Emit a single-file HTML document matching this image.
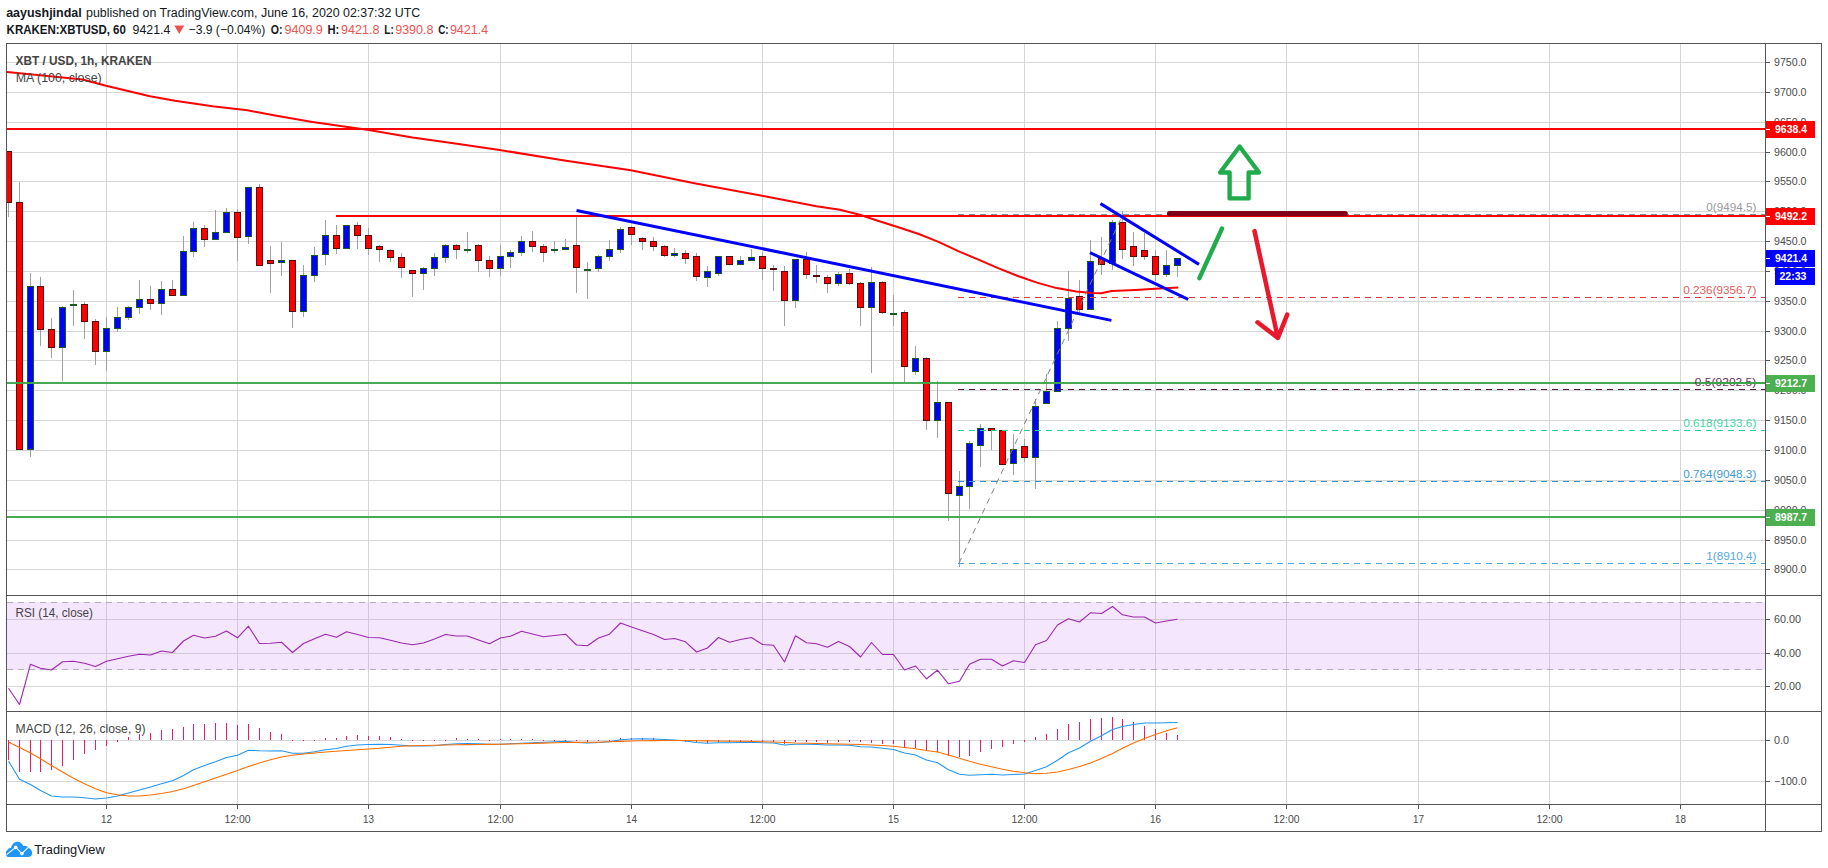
<!DOCTYPE html>
<html lang="en"><head><meta charset="utf-8"><title>XBTUSD chart</title>
<style>html,body{margin:0;padding:0;background:#fff;}body{width:1828px;height:868px;overflow:hidden;}</style>
</head><body>
<svg width="1828" height="868" viewBox="0 0 1828 868" style="display:block;font-family:'Liberation Sans', sans-serif">
<rect x="0" y="0" width="1828" height="868" fill="#ffffff"/>
<g shape-rendering="crispEdges">
<rect x="7" y="602" width="1758" height="68" fill="#f4e6fd"/>
<rect x="106" y="44" width="1" height="760" fill="#d6d6d6"/>
<rect x="237" y="44" width="1" height="760" fill="#d6d6d6"/>
<rect x="368" y="44" width="1" height="760" fill="#d6d6d6"/>
<rect x="500" y="44" width="1" height="760" fill="#d6d6d6"/>
<rect x="631" y="44" width="1" height="760" fill="#d6d6d6"/>
<rect x="762" y="44" width="1" height="760" fill="#d6d6d6"/>
<rect x="893" y="44" width="1" height="760" fill="#d6d6d6"/>
<rect x="1024" y="44" width="1" height="760" fill="#d6d6d6"/>
<rect x="1155" y="44" width="1" height="760" fill="#d6d6d6"/>
<rect x="1286" y="44" width="1" height="760" fill="#d6d6d6"/>
<rect x="1418" y="44" width="1" height="760" fill="#d6d6d6"/>
<rect x="1549" y="44" width="1" height="760" fill="#d6d6d6"/>
<rect x="1680" y="44" width="1" height="760" fill="#d6d6d6"/>
<rect x="7" y="62" width="1758" height="1" fill="#d6d6d6"/>
<rect x="7" y="92" width="1758" height="1" fill="#d6d6d6"/>
<rect x="7" y="122" width="1758" height="1" fill="#d6d6d6"/>
<rect x="7" y="152" width="1758" height="1" fill="#d6d6d6"/>
<rect x="7" y="181" width="1758" height="1" fill="#d6d6d6"/>
<rect x="7" y="211" width="1758" height="1" fill="#d6d6d6"/>
<rect x="7" y="241" width="1758" height="1" fill="#d6d6d6"/>
<rect x="7" y="271" width="1758" height="1" fill="#d6d6d6"/>
<rect x="7" y="301" width="1758" height="1" fill="#d6d6d6"/>
<rect x="7" y="331" width="1758" height="1" fill="#d6d6d6"/>
<rect x="7" y="360" width="1758" height="1" fill="#d6d6d6"/>
<rect x="7" y="390" width="1758" height="1" fill="#d6d6d6"/>
<rect x="7" y="420" width="1758" height="1" fill="#d6d6d6"/>
<rect x="7" y="450" width="1758" height="1" fill="#d6d6d6"/>
<rect x="7" y="480" width="1758" height="1" fill="#d6d6d6"/>
<rect x="7" y="510" width="1758" height="1" fill="#d6d6d6"/>
<rect x="7" y="540" width="1758" height="1" fill="#d6d6d6"/>
<rect x="7" y="569" width="1758" height="1" fill="#d6d6d6"/>
<rect x="7" y="619" width="1758" height="1" fill="#d6d6d6"/>
<rect x="7" y="653" width="1758" height="1" fill="#d6d6d6"/>
<rect x="7" y="686" width="1758" height="1" fill="#d6d6d6"/>
<rect x="7" y="740" width="1758" height="1" fill="#d6d6d6"/>
<rect x="7" y="781" width="1758" height="1" fill="#d6d6d6"/>
</g>
<g shape-rendering="crispEdges">
<rect x="7" y="619" width="1758" height="1" fill="#d4c6dc"/>
<rect x="7" y="653" width="1758" height="1" fill="#d4c6dc"/>
<rect x="106" y="602" width="1" height="68" fill="#d4c6dc"/>
<rect x="237" y="602" width="1" height="68" fill="#d4c6dc"/>
<rect x="368" y="602" width="1" height="68" fill="#d4c6dc"/>
<rect x="500" y="602" width="1" height="68" fill="#d4c6dc"/>
<rect x="631" y="602" width="1" height="68" fill="#d4c6dc"/>
<rect x="762" y="602" width="1" height="68" fill="#d4c6dc"/>
<rect x="893" y="602" width="1" height="68" fill="#d4c6dc"/>
<rect x="1024" y="602" width="1" height="68" fill="#d4c6dc"/>
<rect x="1155" y="602" width="1" height="68" fill="#d4c6dc"/>
<rect x="1286" y="602" width="1" height="68" fill="#d4c6dc"/>
<rect x="1418" y="602" width="1" height="68" fill="#d4c6dc"/>
<rect x="1549" y="602" width="1" height="68" fill="#d4c6dc"/>
<rect x="1680" y="602" width="1" height="68" fill="#d4c6dc"/>
</g>
<line x1="7" y1="602.5" x2="1765" y2="602.5" stroke="#b5adbd" stroke-width="1" stroke-dasharray="6,5" shape-rendering="crispEdges"/>
<line x1="7" y1="669.5" x2="1765" y2="669.5" stroke="#b5adbd" stroke-width="1" stroke-dasharray="6,5" shape-rendering="crispEdges"/>
<g shape-rendering="crispEdges">
<rect x="8" y="151" width="1" height="66" fill="#a0a0a0"/>
<rect x="7" y="151" width="5" height="52" fill="#5a0c0c"/>
<rect x="7" y="152" width="4" height="50" fill="#ff0000"/>
<rect x="19" y="182" width="1" height="268" fill="#a0a0a0"/>
<rect x="16" y="202" width="7" height="248" fill="#5a0c0c"/>
<rect x="17" y="203" width="5" height="246" fill="#ff0000"/>
<rect x="30" y="273" width="1" height="184" fill="#a0a0a0"/>
<rect x="27" y="286" width="7" height="164" fill="#1a5a20"/>
<rect x="28" y="287" width="5" height="162" fill="#0000ff"/>
<rect x="40" y="277" width="1" height="69" fill="#a0a0a0"/>
<rect x="37" y="286" width="7" height="44" fill="#5a0c0c"/>
<rect x="38" y="287" width="5" height="42" fill="#ff0000"/>
<rect x="51" y="318" width="1" height="40" fill="#a0a0a0"/>
<rect x="48" y="329" width="7" height="19" fill="#5a0c0c"/>
<rect x="49" y="330" width="5" height="17" fill="#ff0000"/>
<rect x="62" y="306" width="1" height="75" fill="#a0a0a0"/>
<rect x="59" y="307" width="7" height="41" fill="#1a5a20"/>
<rect x="60" y="308" width="5" height="39" fill="#0000ff"/>
<rect x="73" y="290" width="1" height="36" fill="#a0a0a0"/>
<rect x="70" y="304" width="7" height="2" fill="#1a5a20"/>
<rect x="84" y="302" width="1" height="37" fill="#a0a0a0"/>
<rect x="81" y="304" width="7" height="18" fill="#5a0c0c"/>
<rect x="82" y="305" width="5" height="16" fill="#ff0000"/>
<rect x="95" y="319" width="1" height="46" fill="#a0a0a0"/>
<rect x="92" y="321" width="7" height="31" fill="#5a0c0c"/>
<rect x="93" y="322" width="5" height="29" fill="#ff0000"/>
<rect x="106" y="317" width="1" height="54" fill="#a0a0a0"/>
<rect x="103" y="328" width="7" height="24" fill="#1a5a20"/>
<rect x="104" y="329" width="5" height="22" fill="#0000ff"/>
<rect x="117" y="307" width="1" height="25" fill="#a0a0a0"/>
<rect x="114" y="317" width="7" height="12" fill="#1a5a20"/>
<rect x="115" y="318" width="5" height="10" fill="#0000ff"/>
<rect x="128" y="306" width="1" height="14" fill="#a0a0a0"/>
<rect x="125" y="307" width="7" height="11" fill="#1a5a20"/>
<rect x="126" y="308" width="5" height="9" fill="#0000ff"/>
<rect x="139" y="280" width="1" height="34" fill="#a0a0a0"/>
<rect x="136" y="299" width="7" height="9" fill="#1a5a20"/>
<rect x="137" y="300" width="5" height="7" fill="#0000ff"/>
<rect x="150" y="286" width="1" height="24" fill="#a0a0a0"/>
<rect x="147" y="299" width="7" height="5" fill="#5a0c0c"/>
<rect x="148" y="300" width="5" height="3" fill="#ff0000"/>
<rect x="161" y="281" width="1" height="34" fill="#a0a0a0"/>
<rect x="158" y="289" width="7" height="15" fill="#1a5a20"/>
<rect x="159" y="290" width="5" height="13" fill="#0000ff"/>
<rect x="172" y="280" width="1" height="16" fill="#a0a0a0"/>
<rect x="169" y="289" width="7" height="7" fill="#5a0c0c"/>
<rect x="170" y="290" width="5" height="5" fill="#ff0000"/>
<rect x="183" y="236" width="1" height="60" fill="#a0a0a0"/>
<rect x="180" y="251" width="7" height="45" fill="#1a5a20"/>
<rect x="181" y="252" width="5" height="43" fill="#0000ff"/>
<rect x="193" y="222" width="1" height="35" fill="#a0a0a0"/>
<rect x="190" y="228" width="7" height="24" fill="#1a5a20"/>
<rect x="191" y="229" width="5" height="22" fill="#0000ff"/>
<rect x="204" y="225" width="1" height="22" fill="#a0a0a0"/>
<rect x="201" y="228" width="7" height="12" fill="#5a0c0c"/>
<rect x="202" y="229" width="5" height="10" fill="#ff0000"/>
<rect x="215" y="210" width="1" height="30" fill="#a0a0a0"/>
<rect x="212" y="232" width="7" height="8" fill="#1a5a20"/>
<rect x="213" y="233" width="5" height="6" fill="#0000ff"/>
<rect x="226" y="208" width="1" height="25" fill="#a0a0a0"/>
<rect x="223" y="212" width="7" height="21" fill="#1a5a20"/>
<rect x="224" y="213" width="5" height="19" fill="#0000ff"/>
<rect x="237" y="209" width="1" height="52" fill="#a0a0a0"/>
<rect x="234" y="212" width="7" height="26" fill="#5a0c0c"/>
<rect x="235" y="213" width="5" height="24" fill="#ff0000"/>
<rect x="248" y="187" width="1" height="57" fill="#a0a0a0"/>
<rect x="245" y="187" width="7" height="50" fill="#1a5a20"/>
<rect x="246" y="188" width="5" height="48" fill="#0000ff"/>
<rect x="259" y="184" width="1" height="82" fill="#a0a0a0"/>
<rect x="256" y="187" width="7" height="79" fill="#5a0c0c"/>
<rect x="257" y="188" width="5" height="77" fill="#ff0000"/>
<rect x="270" y="246" width="1" height="47" fill="#a0a0a0"/>
<rect x="267" y="260" width="7" height="4" fill="#5a0c0c"/>
<rect x="268" y="261" width="5" height="2" fill="#ff0000"/>
<rect x="281" y="242" width="1" height="34" fill="#a0a0a0"/>
<rect x="278" y="260" width="7" height="3" fill="#1a5a20"/>
<rect x="279" y="261" width="5" height="1" fill="#0000ff"/>
<rect x="292" y="260" width="1" height="68" fill="#a0a0a0"/>
<rect x="289" y="260" width="7" height="52" fill="#5a0c0c"/>
<rect x="290" y="261" width="5" height="50" fill="#ff0000"/>
<rect x="303" y="265" width="1" height="52" fill="#a0a0a0"/>
<rect x="300" y="275" width="7" height="37" fill="#1a5a20"/>
<rect x="301" y="276" width="5" height="35" fill="#0000ff"/>
<rect x="314" y="247" width="1" height="35" fill="#a0a0a0"/>
<rect x="311" y="255" width="7" height="21" fill="#1a5a20"/>
<rect x="312" y="256" width="5" height="19" fill="#0000ff"/>
<rect x="325" y="220" width="1" height="45" fill="#a0a0a0"/>
<rect x="322" y="235" width="7" height="20" fill="#1a5a20"/>
<rect x="323" y="236" width="5" height="18" fill="#0000ff"/>
<rect x="336" y="225" width="1" height="29" fill="#a0a0a0"/>
<rect x="333" y="235" width="7" height="14" fill="#5a0c0c"/>
<rect x="334" y="236" width="5" height="12" fill="#ff0000"/>
<rect x="346" y="225" width="1" height="24" fill="#a0a0a0"/>
<rect x="343" y="225" width="7" height="24" fill="#1a5a20"/>
<rect x="344" y="226" width="5" height="22" fill="#0000ff"/>
<rect x="357" y="222" width="1" height="27" fill="#a0a0a0"/>
<rect x="354" y="225" width="7" height="11" fill="#5a0c0c"/>
<rect x="355" y="226" width="5" height="9" fill="#ff0000"/>
<rect x="368" y="228" width="1" height="27" fill="#a0a0a0"/>
<rect x="365" y="235" width="7" height="14" fill="#5a0c0c"/>
<rect x="366" y="236" width="5" height="12" fill="#ff0000"/>
<rect x="379" y="245" width="1" height="17" fill="#a0a0a0"/>
<rect x="376" y="246" width="7" height="4" fill="#5a0c0c"/>
<rect x="377" y="247" width="5" height="2" fill="#ff0000"/>
<rect x="390" y="249" width="1" height="13" fill="#a0a0a0"/>
<rect x="387" y="250" width="7" height="8" fill="#5a0c0c"/>
<rect x="388" y="251" width="5" height="6" fill="#ff0000"/>
<rect x="401" y="253" width="1" height="25" fill="#a0a0a0"/>
<rect x="398" y="257" width="7" height="11" fill="#5a0c0c"/>
<rect x="399" y="258" width="5" height="9" fill="#ff0000"/>
<rect x="412" y="270" width="1" height="27" fill="#a0a0a0"/>
<rect x="409" y="270" width="7" height="4" fill="#5a0c0c"/>
<rect x="410" y="271" width="5" height="2" fill="#ff0000"/>
<rect x="423" y="267" width="1" height="23" fill="#a0a0a0"/>
<rect x="420" y="268" width="7" height="6" fill="#1a5a20"/>
<rect x="421" y="269" width="5" height="4" fill="#0000ff"/>
<rect x="434" y="253" width="1" height="23" fill="#a0a0a0"/>
<rect x="431" y="257" width="7" height="12" fill="#1a5a20"/>
<rect x="432" y="258" width="5" height="10" fill="#0000ff"/>
<rect x="445" y="244" width="1" height="19" fill="#a0a0a0"/>
<rect x="442" y="245" width="7" height="13" fill="#1a5a20"/>
<rect x="443" y="246" width="5" height="11" fill="#0000ff"/>
<rect x="456" y="244" width="1" height="15" fill="#a0a0a0"/>
<rect x="453" y="245" width="7" height="5" fill="#5a0c0c"/>
<rect x="454" y="246" width="5" height="3" fill="#ff0000"/>
<rect x="467" y="232" width="1" height="21" fill="#a0a0a0"/>
<rect x="464" y="249" width="7" height="2" fill="#1a5a20"/>
<rect x="478" y="244" width="1" height="28" fill="#a0a0a0"/>
<rect x="475" y="245" width="7" height="16" fill="#5a0c0c"/>
<rect x="476" y="246" width="5" height="14" fill="#ff0000"/>
<rect x="489" y="256" width="1" height="21" fill="#a0a0a0"/>
<rect x="486" y="260" width="7" height="9" fill="#5a0c0c"/>
<rect x="487" y="261" width="5" height="7" fill="#ff0000"/>
<rect x="500" y="245" width="1" height="31" fill="#a0a0a0"/>
<rect x="497" y="256" width="7" height="13" fill="#1a5a20"/>
<rect x="498" y="257" width="5" height="11" fill="#0000ff"/>
<rect x="510" y="250" width="1" height="18" fill="#a0a0a0"/>
<rect x="507" y="252" width="7" height="5" fill="#1a5a20"/>
<rect x="508" y="253" width="5" height="3" fill="#0000ff"/>
<rect x="521" y="236" width="1" height="20" fill="#a0a0a0"/>
<rect x="518" y="241" width="7" height="12" fill="#1a5a20"/>
<rect x="519" y="242" width="5" height="10" fill="#0000ff"/>
<rect x="532" y="231" width="1" height="21" fill="#a0a0a0"/>
<rect x="529" y="241" width="7" height="6" fill="#5a0c0c"/>
<rect x="530" y="242" width="5" height="4" fill="#ff0000"/>
<rect x="543" y="244" width="1" height="18" fill="#a0a0a0"/>
<rect x="540" y="246" width="7" height="7" fill="#5a0c0c"/>
<rect x="541" y="247" width="5" height="5" fill="#ff0000"/>
<rect x="554" y="241" width="1" height="12" fill="#a0a0a0"/>
<rect x="551" y="249" width="7" height="2" fill="#1a5a20"/>
<rect x="565" y="239" width="1" height="11" fill="#a0a0a0"/>
<rect x="562" y="247" width="7" height="3" fill="#1a5a20"/>
<rect x="563" y="248" width="5" height="1" fill="#0000ff"/>
<rect x="576" y="217" width="1" height="76" fill="#a0a0a0"/>
<rect x="573" y="245" width="7" height="23" fill="#5a0c0c"/>
<rect x="574" y="246" width="5" height="21" fill="#ff0000"/>
<rect x="587" y="262" width="1" height="37" fill="#a0a0a0"/>
<rect x="584" y="269" width="7" height="2" fill="#1a5a20"/>
<rect x="598" y="255" width="1" height="17" fill="#a0a0a0"/>
<rect x="595" y="256" width="7" height="13" fill="#1a5a20"/>
<rect x="596" y="257" width="5" height="11" fill="#0000ff"/>
<rect x="609" y="240" width="1" height="21" fill="#a0a0a0"/>
<rect x="606" y="249" width="7" height="8" fill="#1a5a20"/>
<rect x="607" y="250" width="5" height="6" fill="#0000ff"/>
<rect x="620" y="227" width="1" height="26" fill="#a0a0a0"/>
<rect x="617" y="229" width="7" height="21" fill="#1a5a20"/>
<rect x="618" y="230" width="5" height="19" fill="#0000ff"/>
<rect x="631" y="226" width="1" height="19" fill="#a0a0a0"/>
<rect x="628" y="227" width="7" height="8" fill="#5a0c0c"/>
<rect x="629" y="228" width="5" height="6" fill="#ff0000"/>
<rect x="642" y="237" width="1" height="13" fill="#a0a0a0"/>
<rect x="639" y="238" width="7" height="4" fill="#5a0c0c"/>
<rect x="640" y="239" width="5" height="2" fill="#ff0000"/>
<rect x="653" y="237" width="1" height="14" fill="#a0a0a0"/>
<rect x="650" y="241" width="7" height="6" fill="#5a0c0c"/>
<rect x="651" y="242" width="5" height="4" fill="#ff0000"/>
<rect x="664" y="245" width="1" height="12" fill="#a0a0a0"/>
<rect x="661" y="246" width="7" height="10" fill="#5a0c0c"/>
<rect x="662" y="247" width="5" height="8" fill="#ff0000"/>
<rect x="674" y="248" width="1" height="9" fill="#a0a0a0"/>
<rect x="671" y="253" width="7" height="3" fill="#1a5a20"/>
<rect x="672" y="254" width="5" height="1" fill="#0000ff"/>
<rect x="685" y="250" width="1" height="14" fill="#a0a0a0"/>
<rect x="682" y="253" width="7" height="6" fill="#5a0c0c"/>
<rect x="683" y="254" width="5" height="4" fill="#ff0000"/>
<rect x="696" y="253" width="1" height="28" fill="#a0a0a0"/>
<rect x="693" y="256" width="7" height="21" fill="#5a0c0c"/>
<rect x="694" y="257" width="5" height="19" fill="#ff0000"/>
<rect x="707" y="266" width="1" height="21" fill="#a0a0a0"/>
<rect x="704" y="271" width="7" height="7" fill="#1a5a20"/>
<rect x="705" y="272" width="5" height="5" fill="#0000ff"/>
<rect x="718" y="256" width="1" height="20" fill="#a0a0a0"/>
<rect x="715" y="256" width="7" height="18" fill="#1a5a20"/>
<rect x="716" y="257" width="5" height="16" fill="#0000ff"/>
<rect x="729" y="256" width="1" height="9" fill="#a0a0a0"/>
<rect x="726" y="256" width="7" height="9" fill="#5a0c0c"/>
<rect x="727" y="257" width="5" height="7" fill="#ff0000"/>
<rect x="740" y="256" width="1" height="9" fill="#a0a0a0"/>
<rect x="737" y="260" width="7" height="5" fill="#1a5a20"/>
<rect x="738" y="261" width="5" height="3" fill="#0000ff"/>
<rect x="751" y="249" width="1" height="12" fill="#a0a0a0"/>
<rect x="748" y="257" width="7" height="4" fill="#1a5a20"/>
<rect x="749" y="258" width="5" height="2" fill="#0000ff"/>
<rect x="762" y="252" width="1" height="28" fill="#a0a0a0"/>
<rect x="759" y="256" width="7" height="13" fill="#5a0c0c"/>
<rect x="760" y="257" width="5" height="11" fill="#ff0000"/>
<rect x="773" y="265" width="1" height="26" fill="#a0a0a0"/>
<rect x="770" y="268" width="7" height="2" fill="#5a0c0c"/>
<rect x="784" y="266" width="1" height="60" fill="#a0a0a0"/>
<rect x="781" y="271" width="7" height="30" fill="#5a0c0c"/>
<rect x="782" y="272" width="5" height="28" fill="#ff0000"/>
<rect x="795" y="259" width="1" height="49" fill="#a0a0a0"/>
<rect x="792" y="259" width="7" height="42" fill="#1a5a20"/>
<rect x="793" y="260" width="5" height="40" fill="#0000ff"/>
<rect x="806" y="252" width="1" height="27" fill="#a0a0a0"/>
<rect x="803" y="259" width="7" height="16" fill="#5a0c0c"/>
<rect x="804" y="260" width="5" height="14" fill="#ff0000"/>
<rect x="816" y="265" width="1" height="18" fill="#a0a0a0"/>
<rect x="813" y="275" width="7" height="2" fill="#5a0c0c"/>
<rect x="827" y="275" width="1" height="18" fill="#a0a0a0"/>
<rect x="824" y="277" width="7" height="7" fill="#5a0c0c"/>
<rect x="825" y="278" width="5" height="5" fill="#ff0000"/>
<rect x="838" y="272" width="1" height="14" fill="#a0a0a0"/>
<rect x="835" y="274" width="7" height="10" fill="#1a5a20"/>
<rect x="836" y="275" width="5" height="8" fill="#0000ff"/>
<rect x="849" y="269" width="1" height="16" fill="#a0a0a0"/>
<rect x="846" y="273" width="7" height="11" fill="#5a0c0c"/>
<rect x="847" y="274" width="5" height="9" fill="#ff0000"/>
<rect x="860" y="282" width="1" height="44" fill="#a0a0a0"/>
<rect x="857" y="283" width="7" height="25" fill="#5a0c0c"/>
<rect x="858" y="284" width="5" height="23" fill="#ff0000"/>
<rect x="871" y="267" width="1" height="106" fill="#a0a0a0"/>
<rect x="868" y="282" width="7" height="26" fill="#1a5a20"/>
<rect x="869" y="283" width="5" height="24" fill="#0000ff"/>
<rect x="882" y="281" width="1" height="33" fill="#a0a0a0"/>
<rect x="879" y="282" width="7" height="31" fill="#5a0c0c"/>
<rect x="880" y="283" width="5" height="29" fill="#ff0000"/>
<rect x="893" y="295" width="1" height="31" fill="#a0a0a0"/>
<rect x="890" y="313" width="7" height="2" fill="#1a5a20"/>
<rect x="904" y="310" width="1" height="72" fill="#a0a0a0"/>
<rect x="901" y="312" width="7" height="55" fill="#5a0c0c"/>
<rect x="902" y="313" width="5" height="53" fill="#ff0000"/>
<rect x="915" y="346" width="1" height="29" fill="#a0a0a0"/>
<rect x="912" y="358" width="7" height="14" fill="#1a5a20"/>
<rect x="913" y="359" width="5" height="12" fill="#0000ff"/>
<rect x="926" y="357" width="1" height="73" fill="#a0a0a0"/>
<rect x="923" y="358" width="7" height="63" fill="#5a0c0c"/>
<rect x="924" y="359" width="5" height="61" fill="#ff0000"/>
<rect x="937" y="381" width="1" height="57" fill="#a0a0a0"/>
<rect x="934" y="402" width="7" height="19" fill="#1a5a20"/>
<rect x="935" y="403" width="5" height="17" fill="#0000ff"/>
<rect x="948" y="402" width="1" height="119" fill="#a0a0a0"/>
<rect x="945" y="402" width="7" height="92" fill="#5a0c0c"/>
<rect x="946" y="403" width="5" height="90" fill="#ff0000"/>
<rect x="959" y="471" width="1" height="96" fill="#a0a0a0"/>
<rect x="956" y="486" width="7" height="10" fill="#1a5a20"/>
<rect x="957" y="487" width="5" height="8" fill="#0000ff"/>
<rect x="969" y="441" width="1" height="68" fill="#a0a0a0"/>
<rect x="966" y="443" width="7" height="44" fill="#1a5a20"/>
<rect x="967" y="444" width="5" height="42" fill="#0000ff"/>
<rect x="980" y="424" width="1" height="43" fill="#a0a0a0"/>
<rect x="977" y="428" width="7" height="18" fill="#1a5a20"/>
<rect x="978" y="429" width="5" height="16" fill="#0000ff"/>
<rect x="991" y="428" width="1" height="22" fill="#a0a0a0"/>
<rect x="988" y="428" width="7" height="3" fill="#5a0c0c"/>
<rect x="989" y="429" width="5" height="1" fill="#ff0000"/>
<rect x="1002" y="430" width="1" height="35" fill="#a0a0a0"/>
<rect x="999" y="430" width="7" height="35" fill="#5a0c0c"/>
<rect x="1000" y="431" width="5" height="33" fill="#ff0000"/>
<rect x="1013" y="434" width="1" height="41" fill="#a0a0a0"/>
<rect x="1010" y="449" width="7" height="15" fill="#1a5a20"/>
<rect x="1011" y="450" width="5" height="13" fill="#0000ff"/>
<rect x="1024" y="439" width="1" height="23" fill="#a0a0a0"/>
<rect x="1021" y="446" width="7" height="12" fill="#5a0c0c"/>
<rect x="1022" y="447" width="5" height="10" fill="#ff0000"/>
<rect x="1035" y="399" width="1" height="90" fill="#a0a0a0"/>
<rect x="1032" y="406" width="7" height="52" fill="#1a5a20"/>
<rect x="1033" y="407" width="5" height="50" fill="#0000ff"/>
<rect x="1046" y="374" width="1" height="30" fill="#a0a0a0"/>
<rect x="1043" y="391" width="7" height="13" fill="#1a5a20"/>
<rect x="1044" y="392" width="5" height="11" fill="#0000ff"/>
<rect x="1057" y="321" width="1" height="71" fill="#a0a0a0"/>
<rect x="1054" y="328" width="7" height="64" fill="#1a5a20"/>
<rect x="1055" y="329" width="5" height="62" fill="#0000ff"/>
<rect x="1068" y="271" width="1" height="70" fill="#a0a0a0"/>
<rect x="1065" y="298" width="7" height="31" fill="#1a5a20"/>
<rect x="1066" y="299" width="5" height="29" fill="#0000ff"/>
<rect x="1079" y="280" width="1" height="33" fill="#a0a0a0"/>
<rect x="1076" y="296" width="7" height="14" fill="#5a0c0c"/>
<rect x="1077" y="297" width="5" height="12" fill="#ff0000"/>
<rect x="1090" y="240" width="1" height="70" fill="#a0a0a0"/>
<rect x="1087" y="261" width="7" height="49" fill="#1a5a20"/>
<rect x="1088" y="262" width="5" height="47" fill="#0000ff"/>
<rect x="1101" y="237" width="1" height="38" fill="#a0a0a0"/>
<rect x="1098" y="258" width="7" height="7" fill="#5a0c0c"/>
<rect x="1099" y="259" width="5" height="5" fill="#ff0000"/>
<rect x="1112" y="220" width="1" height="50" fill="#a0a0a0"/>
<rect x="1109" y="222" width="7" height="42" fill="#1a5a20"/>
<rect x="1110" y="223" width="5" height="40" fill="#0000ff"/>
<rect x="1122" y="211" width="1" height="48" fill="#a0a0a0"/>
<rect x="1119" y="222" width="7" height="28" fill="#5a0c0c"/>
<rect x="1120" y="223" width="5" height="26" fill="#ff0000"/>
<rect x="1133" y="232" width="1" height="34" fill="#a0a0a0"/>
<rect x="1130" y="246" width="7" height="11" fill="#5a0c0c"/>
<rect x="1131" y="247" width="5" height="9" fill="#ff0000"/>
<rect x="1144" y="233" width="1" height="27" fill="#a0a0a0"/>
<rect x="1141" y="250" width="7" height="7" fill="#5a0c0c"/>
<rect x="1142" y="251" width="5" height="5" fill="#ff0000"/>
<rect x="1155" y="250" width="1" height="31" fill="#a0a0a0"/>
<rect x="1152" y="256" width="7" height="19" fill="#5a0c0c"/>
<rect x="1153" y="257" width="5" height="17" fill="#ff0000"/>
<rect x="1166" y="250" width="1" height="27" fill="#a0a0a0"/>
<rect x="1163" y="265" width="7" height="10" fill="#1a5a20"/>
<rect x="1164" y="266" width="5" height="8" fill="#0000ff"/>
<rect x="1177" y="258" width="1" height="19" fill="#a0a0a0"/>
<rect x="1174" y="258" width="7" height="8" fill="#1a5a20"/>
<rect x="1175" y="259" width="5" height="6" fill="#0000ff"/>
</g>
<path d="M7.0,72.0 L37.5,75.0 L82.5,79.5 L106.0,85.8 L150.0,96.3 L175.0,100.8 L212.5,106.3 L247.5,110.3 L275.0,115.5 L312.5,122.0 L368.8,130.0 L412.5,137.5 L457.0,143.8 L501.3,150.3 L566.0,160.8 L630.8,170.2 L695.6,183.5 L762.1,195.8 L816.4,206.3 L840.0,209.8 L859.7,214.7 L879.4,221.2 L899.1,227.5 L918.8,234.0 L938.5,241.9 L958.2,251.1 L977.9,259.4 L997.5,267.9 L1017.2,275.7 L1036.9,282.6 L1056.6,288.1 L1076.3,291.5 L1092.1,292.9 L1100.9,293.3 L1111.8,291.1 L1135.4,289.9 L1155.1,288.7 L1178.3,287.6" fill="none" stroke="#ff0000" stroke-width="2" stroke-linejoin="round"/>
<line x1="958" y1="214.5" x2="1765" y2="214.5" stroke="#8c8c8c" stroke-width="1" stroke-dasharray="6,5" shape-rendering="crispEdges"/>
<line x1="958" y1="297.5" x2="1765" y2="297.5" stroke="#e03a3a" stroke-width="1" stroke-dasharray="6,5" shape-rendering="crispEdges"/>
<line x1="958" y1="389.5" x2="1765" y2="389.5" stroke="#5b1742" stroke-width="1" stroke-dasharray="6,5" shape-rendering="crispEdges"/>
<line x1="958" y1="430.5" x2="1765" y2="430.5" stroke="#22d3a0" stroke-width="1" stroke-dasharray="6,5" shape-rendering="crispEdges"/>
<line x1="958" y1="481.5" x2="1765" y2="481.5" stroke="#2a93d8" stroke-width="1" stroke-dasharray="6,5" shape-rendering="crispEdges"/>
<line x1="958" y1="563.5" x2="1765" y2="563.5" stroke="#4aa8e2" stroke-width="1" stroke-dasharray="6,5" shape-rendering="crispEdges"/>
<line x1="958.9" y1="563.4" x2="1122.9" y2="214.5" stroke="#808080" stroke-width="1" stroke-dasharray="6,5"/>
<g shape-rendering="crispEdges">
<rect x="7" y="128" width="1758" height="2" fill="#ff0000"/>
<rect x="336" y="215" width="1429" height="2" fill="#ff0000"/>
<rect x="7" y="382" width="1758" height="2" fill="#3fa648" fill-opacity="0.95"/>
<rect x="7" y="516" width="1758" height="2" fill="#3fa648" fill-opacity="0.95"/>
</g>
<line x1="576.5" y1="210.5" x2="1111.4" y2="320.4" stroke="#0000ff" stroke-width="3"/>
<line x1="1100.5" y1="203.6" x2="1199" y2="264.4" stroke="#0000ff" stroke-width="3"/>
<line x1="1090" y1="252.6" x2="1188.2" y2="299.4" stroke="#0000ff" stroke-width="3"/>
<line x1="1169.6" y1="213.6" x2="1345.2" y2="213.6" stroke="#80001a" stroke-width="5.2" stroke-linecap="round"/>
<path d="M1239.6,146.5 L1259,172.5 L1248.6,172.5 L1248.6,198.4 L1229.6,198.4 L1229.6,172.5 L1220.1,172.5 Z" fill="none" stroke="#22ab4b" stroke-width="4.4" stroke-linejoin="round"/>
<line x1="1199.4" y1="278.2" x2="1222" y2="228.5" stroke="#22ab4b" stroke-width="4.4" stroke-linecap="round"/>
<path d="M1254.5,231.1 L1277.9,337.9 M1257.5,322.3 L1277.9,337.9 L1287.2,314.7" fill="none" stroke="#e8192c" stroke-width="4.5" stroke-linecap="round" stroke-linejoin="round"/>
<path d="M8.5,688.2 L19.5,704.5 L30.5,664.2 L40.5,668.2 L51.5,670.0 L62.5,661.8 L73.5,661.2 L84.5,663.2 L95.5,666.5 L106.5,661.2 L117.5,658.8 L128.5,656.2 L139.5,654.2 L150.5,655.0 L161.5,651.0 L172.5,652.5 L183.5,641.0 L193.5,635.2 L204.5,638.0 L215.5,636.2 L226.5,631.0 L237.5,637.8 L248.5,626.2 L259.5,643.5 L270.5,643.2 L281.5,642.2 L292.5,652.5 L303.5,643.5 L314.5,638.8 L325.5,634.2 L336.5,637.2 L346.5,631.8 L357.5,634.5 L368.5,637.5 L379.5,637.8 L390.5,640.2 L401.5,643.0 L412.5,644.8 L423.5,643.0 L434.5,639.0 L445.5,634.5 L456.5,636.0 L467.5,636.0 L478.5,640.0 L489.5,643.8 L500.5,638.0 L510.5,636.2 L521.5,631.2 L532.5,634.0 L543.5,636.8 L554.5,635.5 L565.5,634.2 L576.5,645.0 L587.5,645.8 L598.5,638.0 L609.5,634.2 L620.5,623.0 L631.5,627.0 L642.5,630.8 L653.5,634.5 L664.5,639.5 L674.5,638.5 L685.5,641.8 L696.5,652.0 L707.5,648.0 L718.5,637.5 L729.5,642.2 L740.5,639.5 L751.5,637.5 L762.5,644.5 L773.5,645.2 L784.5,662.0 L795.5,635.8 L806.5,642.8 L816.5,643.8 L827.5,647.2 L838.5,641.5 L849.5,646.5 L860.5,657.0 L871.5,642.5 L882.5,654.5 L893.5,654.5 L904.5,670.0 L915.5,666.0 L926.5,678.8 L937.5,670.2 L948.5,683.8 L959.5,681.2 L969.5,664.2 L980.5,659.2 L991.5,659.2 L1002.5,666.0 L1013.5,660.8 L1024.5,662.5 L1035.5,644.8 L1046.5,640.5 L1057.5,625.0 L1068.5,618.8 L1079.5,622.0 L1090.5,612.8 L1101.5,613.5 L1112.5,606.5 L1122.5,614.8 L1133.5,617.0 L1144.5,617.0 L1155.5,623.0 L1166.5,621.0 L1177.5,619.2" fill="none" stroke="#9c27b0" stroke-width="1.1" stroke-linejoin="round"/>
<g shape-rendering="crispEdges">
<rect x="8" y="740" width="1" height="20" fill="#f0186c"/>
<rect x="19" y="740" width="1" height="32" fill="#f0186c"/>
<rect x="30" y="740" width="1" height="32" fill="#f0186c"/>
<rect x="40" y="740" width="1" height="32" fill="#f0186c"/>
<rect x="51" y="740" width="1" height="30" fill="#f0186c"/>
<rect x="62" y="740" width="1" height="26" fill="#f0186c"/>
<rect x="73" y="740" width="1" height="20" fill="#f0186c"/>
<rect x="84" y="740" width="1" height="14" fill="#f0186c"/>
<rect x="95" y="740" width="1" height="10" fill="#f0186c"/>
<rect x="106" y="740" width="1" height="6" fill="#f0186c"/>
<rect x="117" y="740" width="1" height="2" fill="#f0186c"/>
<rect x="128" y="737" width="1" height="3" fill="#f0186c"/>
<rect x="139" y="734" width="1" height="6" fill="#f0186c"/>
<rect x="150" y="733" width="1" height="7" fill="#f0186c"/>
<rect x="161" y="730" width="1" height="10" fill="#f0186c"/>
<rect x="172" y="729" width="1" height="11" fill="#f0186c"/>
<rect x="183" y="727" width="1" height="13" fill="#f0186c"/>
<rect x="193" y="724" width="1" height="16" fill="#f0186c"/>
<rect x="204" y="724" width="1" height="16" fill="#f0186c"/>
<rect x="215" y="723" width="1" height="17" fill="#f0186c"/>
<rect x="226" y="723" width="1" height="17" fill="#f0186c"/>
<rect x="237" y="725" width="1" height="15" fill="#f0186c"/>
<rect x="248" y="724" width="1" height="16" fill="#f0186c"/>
<rect x="259" y="728" width="1" height="12" fill="#f0186c"/>
<rect x="270" y="732" width="1" height="8" fill="#f0186c"/>
<rect x="281" y="734" width="1" height="6" fill="#f0186c"/>
<rect x="292" y="740" width="1" height="1" fill="#f0186c"/>
<rect x="303" y="740" width="1" height="1" fill="#f0186c"/>
<rect x="314" y="740" width="1" height="1" fill="#f0186c"/>
<rect x="325" y="738" width="1" height="2" fill="#f0186c"/>
<rect x="336" y="738" width="1" height="2" fill="#f0186c"/>
<rect x="346" y="736" width="1" height="4" fill="#f0186c"/>
<rect x="357" y="735" width="1" height="5" fill="#f0186c"/>
<rect x="368" y="736" width="1" height="4" fill="#f0186c"/>
<rect x="379" y="736" width="1" height="4" fill="#f0186c"/>
<rect x="390" y="737" width="1" height="3" fill="#f0186c"/>
<rect x="401" y="739" width="1" height="1" fill="#f0186c"/>
<rect x="412" y="740" width="1" height="1" fill="#f0186c"/>
<rect x="423" y="740" width="1" height="1" fill="#f0186c"/>
<rect x="434" y="740" width="1" height="1" fill="#f0186c"/>
<rect x="445" y="740" width="1" height="1" fill="#f0186c"/>
<rect x="456" y="738" width="1" height="2" fill="#f0186c"/>
<rect x="467" y="739" width="1" height="1" fill="#f0186c"/>
<rect x="478" y="739" width="1" height="1" fill="#f0186c"/>
<rect x="489" y="740" width="1" height="1" fill="#f0186c"/>
<rect x="500" y="739" width="1" height="1" fill="#f0186c"/>
<rect x="510" y="739" width="1" height="1" fill="#f0186c"/>
<rect x="521" y="739" width="1" height="1" fill="#f0186c"/>
<rect x="532" y="739" width="1" height="1" fill="#f0186c"/>
<rect x="543" y="740" width="1" height="1" fill="#f0186c"/>
<rect x="554" y="740" width="1" height="1" fill="#f0186c"/>
<rect x="565" y="740" width="1" height="1" fill="#f0186c"/>
<rect x="576" y="740" width="1" height="1" fill="#f0186c"/>
<rect x="587" y="740" width="1" height="2" fill="#f0186c"/>
<rect x="598" y="740" width="1" height="1" fill="#f0186c"/>
<rect x="609" y="740" width="1" height="1" fill="#f0186c"/>
<rect x="620" y="738" width="1" height="2" fill="#f0186c"/>
<rect x="631" y="738" width="1" height="2" fill="#f0186c"/>
<rect x="642" y="738" width="1" height="2" fill="#f0186c"/>
<rect x="653" y="738" width="1" height="2" fill="#f0186c"/>
<rect x="664" y="739" width="1" height="1" fill="#f0186c"/>
<rect x="674" y="740" width="1" height="1" fill="#f0186c"/>
<rect x="685" y="740" width="1" height="2" fill="#f0186c"/>
<rect x="696" y="740" width="1" height="2" fill="#f0186c"/>
<rect x="707" y="740" width="1" height="3" fill="#f0186c"/>
<rect x="718" y="740" width="1" height="2" fill="#f0186c"/>
<rect x="729" y="740" width="1" height="2" fill="#f0186c"/>
<rect x="740" y="740" width="1" height="2" fill="#f0186c"/>
<rect x="751" y="740" width="1" height="2" fill="#f0186c"/>
<rect x="762" y="740" width="1" height="2" fill="#f0186c"/>
<rect x="773" y="740" width="1" height="2" fill="#f0186c"/>
<rect x="784" y="740" width="1" height="4" fill="#f0186c"/>
<rect x="795" y="740" width="1" height="2" fill="#f0186c"/>
<rect x="806" y="740" width="1" height="2" fill="#f0186c"/>
<rect x="816" y="740" width="1" height="2" fill="#f0186c"/>
<rect x="827" y="740" width="1" height="3" fill="#f0186c"/>
<rect x="838" y="740" width="1" height="2" fill="#f0186c"/>
<rect x="849" y="740" width="1" height="2" fill="#f0186c"/>
<rect x="860" y="740" width="1" height="2" fill="#f0186c"/>
<rect x="871" y="740" width="1" height="3" fill="#f0186c"/>
<rect x="882" y="740" width="1" height="4" fill="#f0186c"/>
<rect x="893" y="740" width="1" height="4" fill="#f0186c"/>
<rect x="904" y="740" width="1" height="7" fill="#f0186c"/>
<rect x="915" y="740" width="1" height="8" fill="#f0186c"/>
<rect x="926" y="740" width="1" height="10" fill="#f0186c"/>
<rect x="937" y="740" width="1" height="12" fill="#f0186c"/>
<rect x="948" y="740" width="1" height="16" fill="#f0186c"/>
<rect x="959" y="740" width="1" height="17" fill="#f0186c"/>
<rect x="969" y="740" width="1" height="16" fill="#f0186c"/>
<rect x="980" y="740" width="1" height="12" fill="#f0186c"/>
<rect x="991" y="740" width="1" height="9" fill="#f0186c"/>
<rect x="1002" y="740" width="1" height="7" fill="#f0186c"/>
<rect x="1013" y="740" width="1" height="4" fill="#f0186c"/>
<rect x="1024" y="740" width="1" height="2" fill="#f0186c"/>
<rect x="1035" y="737" width="1" height="3" fill="#f0186c"/>
<rect x="1046" y="734" width="1" height="6" fill="#f0186c"/>
<rect x="1057" y="729" width="1" height="11" fill="#f0186c"/>
<rect x="1068" y="724" width="1" height="16" fill="#f0186c"/>
<rect x="1079" y="722" width="1" height="18" fill="#f0186c"/>
<rect x="1090" y="719" width="1" height="21" fill="#f0186c"/>
<rect x="1101" y="718" width="1" height="22" fill="#f0186c"/>
<rect x="1112" y="717" width="1" height="23" fill="#f0186c"/>
<rect x="1122" y="719" width="1" height="21" fill="#f0186c"/>
<rect x="1133" y="722" width="1" height="18" fill="#f0186c"/>
<rect x="1144" y="726" width="1" height="14" fill="#f0186c"/>
<rect x="1155" y="729" width="1" height="11" fill="#f0186c"/>
<rect x="1166" y="733" width="1" height="7" fill="#f0186c"/>
<rect x="1177" y="735" width="1" height="5" fill="#f0186c"/>
</g>
<path d="M8.5,761.0 L19.5,779.2 L30.5,784.5 L40.5,790.5 L51.5,796.0 L62.5,797.0 L73.5,797.0 L84.5,797.8 L95.5,799.0 L106.5,798.0 L117.5,796.0 L128.5,793.0 L139.5,790.0 L150.5,787.0 L161.5,783.8 L172.5,780.8 L183.5,775.5 L193.5,769.8 L204.5,765.5 L215.5,761.8 L226.5,757.5 L237.5,755.2 L248.5,750.2 L259.5,750.8 L270.5,751.0 L281.5,750.8 L292.5,753.2 L303.5,753.2 L314.5,751.8 L325.5,749.8 L336.5,748.5 L346.5,746.2 L357.5,745.0 L368.5,744.5 L379.5,744.2 L390.5,744.5 L401.5,745.2 L412.5,746.0 L423.5,746.0 L434.5,745.8 L445.5,744.5 L456.5,743.8 L467.5,743.6 L478.5,743.9 L489.5,744.2 L500.5,744.2 L510.5,743.8 L521.5,743.3 L532.5,742.8 L543.5,742.3 L554.5,741.8 L565.5,741.2 L576.5,742.5 L587.5,743.0 L598.5,742.5 L609.5,741.8 L620.5,739.8 L631.5,739.0 L642.5,738.8 L653.5,739.0 L664.5,739.5 L674.5,740.0 L685.5,741.0 L696.5,742.5 L707.5,743.2 L718.5,742.8 L729.5,742.8 L740.5,742.5 L751.5,742.2 L762.5,742.8 L773.5,743.0 L784.5,745.0 L795.5,744.2 L806.5,744.2 L816.5,744.5 L827.5,745.0 L838.5,745.0 L849.5,745.2 L860.5,746.8 L871.5,747.0 L882.5,748.2 L893.5,749.5 L904.5,753.0 L915.5,755.0 L926.5,760.0 L937.5,762.8 L948.5,769.8 L959.5,774.2 L969.5,775.2 L980.5,774.8 L991.5,774.2 L1002.5,775.0 L1013.5,774.5 L1024.5,774.0 L1035.5,770.5 L1046.5,766.8 L1057.5,760.2 L1068.5,752.8 L1079.5,748.0 L1090.5,741.2 L1101.5,735.8 L1112.5,729.5 L1122.5,726.5 L1133.5,724.5 L1144.5,723.0 L1155.5,723.0 L1166.5,722.8 L1177.5,722.5" fill="none" stroke="#2196f3" stroke-width="1.1" stroke-linejoin="round"/>
<path d="M8.5,742.0 L19.5,747.5 L30.5,753.0 L40.5,758.8 L51.5,765.5 L62.5,772.0 L73.5,778.2 L84.5,783.8 L95.5,788.8 L106.5,792.8 L117.5,794.8 L128.5,796.0 L139.5,796.0 L150.5,795.0 L161.5,793.5 L172.5,791.5 L183.5,788.8 L193.5,785.5 L204.5,781.8 L215.5,778.0 L226.5,774.2 L237.5,770.5 L248.5,766.5 L259.5,763.0 L270.5,759.8 L281.5,757.0 L292.5,755.2 L303.5,754.0 L314.5,753.0 L325.5,752.0 L336.5,751.2 L346.5,750.5 L357.5,749.8 L368.5,749.0 L379.5,748.2 L390.5,747.2 L401.5,746.2 L412.5,745.8 L423.5,745.5 L434.5,745.2 L445.5,745.0 L456.5,744.8 L467.5,744.6 L478.5,744.5 L489.5,744.4 L500.5,744.2 L510.5,744.0 L521.5,743.7 L532.5,743.4 L543.5,743.1 L554.5,742.8 L565.5,742.5 L576.5,742.4 L587.5,742.3 L598.5,742.2 L609.5,741.8 L620.5,741.4 L631.5,741.0 L642.5,740.8 L653.5,740.6 L664.5,740.5 L674.5,740.5 L685.5,740.5 L696.5,740.7 L707.5,740.9 L718.5,741.0 L729.5,741.2 L740.5,741.3 L751.5,741.5 L762.5,741.7 L773.5,742.0 L784.5,742.5 L795.5,743.0 L806.5,743.2 L816.5,743.5 L827.5,743.8 L838.5,744.0 L849.5,744.2 L860.5,744.5 L871.5,745.0 L882.5,745.5 L893.5,746.2 L904.5,747.5 L915.5,748.8 L926.5,750.5 L937.5,752.0 L948.5,755.0 L959.5,758.2 L969.5,761.2 L980.5,764.2 L991.5,766.8 L1002.5,769.2 L1013.5,771.2 L1024.5,772.8 L1035.5,773.8 L1046.5,773.2 L1057.5,772.0 L1068.5,769.5 L1079.5,766.5 L1090.5,763.0 L1101.5,758.5 L1112.5,753.5 L1122.5,748.2 L1133.5,743.0 L1144.5,738.5 L1155.5,734.5 L1166.5,730.8 L1177.5,727.8" fill="none" stroke="#ff6d00" stroke-width="1.1" stroke-linejoin="round"/>
<rect x="1766" y="44" width="55" height="787" fill="#ffffff"/>
<g shape-rendering="crispEdges">
<rect x="6" y="43" width="1816" height="1" fill="#555555"/>
<rect x="6" y="831" width="1816" height="1" fill="#555555"/>
<rect x="6" y="43" width="1" height="789" fill="#555555"/>
<rect x="1821" y="43" width="1" height="789" fill="#555555"/>
<rect x="1765" y="43" width="1" height="789" fill="#555555"/>
<rect x="6" y="595" width="1816" height="1" fill="#555555"/>
<rect x="6" y="711" width="1816" height="1" fill="#555555"/>
<rect x="6" y="804" width="1816" height="1" fill="#555555"/>
<rect x="106" y="805" width="1" height="4" fill="#555555"/>
<rect x="237" y="805" width="1" height="4" fill="#555555"/>
<rect x="368" y="805" width="1" height="4" fill="#555555"/>
<rect x="500" y="805" width="1" height="4" fill="#555555"/>
<rect x="631" y="805" width="1" height="4" fill="#555555"/>
<rect x="762" y="805" width="1" height="4" fill="#555555"/>
<rect x="893" y="805" width="1" height="4" fill="#555555"/>
<rect x="1024" y="805" width="1" height="4" fill="#555555"/>
<rect x="1155" y="805" width="1" height="4" fill="#555555"/>
<rect x="1286" y="805" width="1" height="4" fill="#555555"/>
<rect x="1418" y="805" width="1" height="4" fill="#555555"/>
<rect x="1549" y="805" width="1" height="4" fill="#555555"/>
<rect x="1680" y="805" width="1" height="4" fill="#555555"/>
<rect x="1766" y="62" width="4" height="1" fill="#555555"/>
<rect x="1766" y="92" width="4" height="1" fill="#555555"/>
<rect x="1766" y="122" width="4" height="1" fill="#555555"/>
<rect x="1766" y="152" width="4" height="1" fill="#555555"/>
<rect x="1766" y="181" width="4" height="1" fill="#555555"/>
<rect x="1766" y="211" width="4" height="1" fill="#555555"/>
<rect x="1766" y="241" width="4" height="1" fill="#555555"/>
<rect x="1766" y="271" width="4" height="1" fill="#555555"/>
<rect x="1766" y="301" width="4" height="1" fill="#555555"/>
<rect x="1766" y="331" width="4" height="1" fill="#555555"/>
<rect x="1766" y="360" width="4" height="1" fill="#555555"/>
<rect x="1766" y="390" width="4" height="1" fill="#555555"/>
<rect x="1766" y="420" width="4" height="1" fill="#555555"/>
<rect x="1766" y="450" width="4" height="1" fill="#555555"/>
<rect x="1766" y="480" width="4" height="1" fill="#555555"/>
<rect x="1766" y="510" width="4" height="1" fill="#555555"/>
<rect x="1766" y="540" width="4" height="1" fill="#555555"/>
<rect x="1766" y="569" width="4" height="1" fill="#555555"/>
<rect x="1766" y="619" width="4" height="1" fill="#555555"/>
<rect x="1766" y="653" width="4" height="1" fill="#555555"/>
<rect x="1766" y="686" width="4" height="1" fill="#555555"/>
<rect x="1766" y="740" width="4" height="1" fill="#555555"/>
<rect x="1766" y="781" width="4" height="1" fill="#555555"/>
</g>
<text x="1774" y="66.3" font-size="10.6" fill="#4a4a4a" text-anchor="start" font-weight="normal" textLength="32.5" lengthAdjust="spacingAndGlyphs">9750.0</text>
<text x="1774" y="96.3" font-size="10.6" fill="#4a4a4a" text-anchor="start" font-weight="normal" textLength="32.5" lengthAdjust="spacingAndGlyphs">9700.0</text>
<text x="1774" y="126.3" font-size="10.6" fill="#4a4a4a" text-anchor="start" font-weight="normal" textLength="32.5" lengthAdjust="spacingAndGlyphs">9650.0</text>
<text x="1774" y="156.3" font-size="10.6" fill="#4a4a4a" text-anchor="start" font-weight="normal" textLength="32.5" lengthAdjust="spacingAndGlyphs">9600.0</text>
<text x="1774" y="185.3" font-size="10.6" fill="#4a4a4a" text-anchor="start" font-weight="normal" textLength="32.5" lengthAdjust="spacingAndGlyphs">9550.0</text>
<text x="1774" y="215.3" font-size="10.6" fill="#4a4a4a" text-anchor="start" font-weight="normal" textLength="32.5" lengthAdjust="spacingAndGlyphs">9500.0</text>
<text x="1774" y="245.3" font-size="10.6" fill="#4a4a4a" text-anchor="start" font-weight="normal" textLength="32.5" lengthAdjust="spacingAndGlyphs">9450.0</text>
<text x="1774" y="275.3" font-size="10.6" fill="#4a4a4a" text-anchor="start" font-weight="normal" textLength="32.5" lengthAdjust="spacingAndGlyphs">9400.0</text>
<text x="1774" y="305.3" font-size="10.6" fill="#4a4a4a" text-anchor="start" font-weight="normal" textLength="32.5" lengthAdjust="spacingAndGlyphs">9350.0</text>
<text x="1774" y="335.3" font-size="10.6" fill="#4a4a4a" text-anchor="start" font-weight="normal" textLength="32.5" lengthAdjust="spacingAndGlyphs">9300.0</text>
<text x="1774" y="364.3" font-size="10.6" fill="#4a4a4a" text-anchor="start" font-weight="normal" textLength="32.5" lengthAdjust="spacingAndGlyphs">9250.0</text>
<text x="1774" y="394.3" font-size="10.6" fill="#4a4a4a" text-anchor="start" font-weight="normal" textLength="32.5" lengthAdjust="spacingAndGlyphs">9200.0</text>
<text x="1774" y="424.3" font-size="10.6" fill="#4a4a4a" text-anchor="start" font-weight="normal" textLength="32.5" lengthAdjust="spacingAndGlyphs">9150.0</text>
<text x="1774" y="454.3" font-size="10.6" fill="#4a4a4a" text-anchor="start" font-weight="normal" textLength="32.5" lengthAdjust="spacingAndGlyphs">9100.0</text>
<text x="1774" y="484.3" font-size="10.6" fill="#4a4a4a" text-anchor="start" font-weight="normal" textLength="32.5" lengthAdjust="spacingAndGlyphs">9050.0</text>
<text x="1774" y="514.3" font-size="10.6" fill="#4a4a4a" text-anchor="start" font-weight="normal" textLength="32.5" lengthAdjust="spacingAndGlyphs">9000.0</text>
<text x="1774" y="544.3" font-size="10.6" fill="#4a4a4a" text-anchor="start" font-weight="normal" textLength="32.5" lengthAdjust="spacingAndGlyphs">8950.0</text>
<text x="1774" y="573.3" font-size="10.6" fill="#4a4a4a" text-anchor="start" font-weight="normal" textLength="32.5" lengthAdjust="spacingAndGlyphs">8900.0</text>
<text x="1774" y="623.3" font-size="10.6" fill="#4a4a4a" text-anchor="start" font-weight="normal" textLength="27" lengthAdjust="spacingAndGlyphs">60.00</text>
<text x="1774" y="657.3" font-size="10.6" fill="#4a4a4a" text-anchor="start" font-weight="normal" textLength="27" lengthAdjust="spacingAndGlyphs">40.00</text>
<text x="1774" y="690.3" font-size="10.6" fill="#4a4a4a" text-anchor="start" font-weight="normal" textLength="27" lengthAdjust="spacingAndGlyphs">20.00</text>
<text x="1774" y="744.3" font-size="10.6" fill="#4a4a4a" text-anchor="start" font-weight="normal" textLength="15" lengthAdjust="spacingAndGlyphs">0.0</text>
<text x="1774" y="785.3" font-size="10.6" fill="#4a4a4a" text-anchor="start" font-weight="normal" textLength="32.5" lengthAdjust="spacingAndGlyphs">−100.0</text>
<text x="106.5" y="823.2" font-size="10.6" fill="#4a4a4a" text-anchor="middle" font-weight="normal" textLength="11" lengthAdjust="spacingAndGlyphs">12</text>
<text x="237.5" y="823.2" font-size="10.6" fill="#4a4a4a" text-anchor="middle" font-weight="normal" textLength="26" lengthAdjust="spacingAndGlyphs">12:00</text>
<text x="368.5" y="823.2" font-size="10.6" fill="#4a4a4a" text-anchor="middle" font-weight="normal" textLength="11" lengthAdjust="spacingAndGlyphs">13</text>
<text x="500.5" y="823.2" font-size="10.6" fill="#4a4a4a" text-anchor="middle" font-weight="normal" textLength="26" lengthAdjust="spacingAndGlyphs">12:00</text>
<text x="631.5" y="823.2" font-size="10.6" fill="#4a4a4a" text-anchor="middle" font-weight="normal" textLength="11" lengthAdjust="spacingAndGlyphs">14</text>
<text x="762.5" y="823.2" font-size="10.6" fill="#4a4a4a" text-anchor="middle" font-weight="normal" textLength="26" lengthAdjust="spacingAndGlyphs">12:00</text>
<text x="893.5" y="823.2" font-size="10.6" fill="#4a4a4a" text-anchor="middle" font-weight="normal" textLength="11" lengthAdjust="spacingAndGlyphs">15</text>
<text x="1024.5" y="823.2" font-size="10.6" fill="#4a4a4a" text-anchor="middle" font-weight="normal" textLength="26" lengthAdjust="spacingAndGlyphs">12:00</text>
<text x="1155.5" y="823.2" font-size="10.6" fill="#4a4a4a" text-anchor="middle" font-weight="normal" textLength="11" lengthAdjust="spacingAndGlyphs">16</text>
<text x="1286.5" y="823.2" font-size="10.6" fill="#4a4a4a" text-anchor="middle" font-weight="normal" textLength="26" lengthAdjust="spacingAndGlyphs">12:00</text>
<text x="1418.5" y="823.2" font-size="10.6" fill="#4a4a4a" text-anchor="middle" font-weight="normal" textLength="11" lengthAdjust="spacingAndGlyphs">17</text>
<text x="1549.5" y="823.2" font-size="10.6" fill="#4a4a4a" text-anchor="middle" font-weight="normal" textLength="26" lengthAdjust="spacingAndGlyphs">12:00</text>
<text x="1680.5" y="823.2" font-size="10.6" fill="#4a4a4a" text-anchor="middle" font-weight="normal" textLength="11" lengthAdjust="spacingAndGlyphs">18</text>
<rect x="1766" y="121" width="49" height="17" fill="#ff0000" shape-rendering="crispEdges"/>
<rect x="1766" y="129" width="4" height="1" fill="#ffffff" shape-rendering="crispEdges"/>
<text x="1775" y="133.3" font-size="10.6" fill="#ffffff" text-anchor="start" font-weight="bold" textLength="32" lengthAdjust="spacingAndGlyphs">9638.4</text>
<rect x="1766" y="208" width="49" height="17" fill="#ff0000" shape-rendering="crispEdges"/>
<rect x="1766" y="216" width="4" height="1" fill="#ffffff" shape-rendering="crispEdges"/>
<text x="1775" y="220.3" font-size="10.6" fill="#ffffff" text-anchor="start" font-weight="bold" textLength="32" lengthAdjust="spacingAndGlyphs">9492.2</text>
<rect x="1766" y="250" width="49" height="17" fill="#0000ff" shape-rendering="crispEdges"/>
<rect x="1766" y="258" width="4" height="1" fill="#ffffff" shape-rendering="crispEdges"/>
<text x="1775" y="262.3" font-size="10.6" fill="#ffffff" text-anchor="start" font-weight="bold" textLength="32" lengthAdjust="spacingAndGlyphs">9421.4</text>
<rect x="1775" y="268" width="40" height="17" fill="#0000ff" shape-rendering="crispEdges"/>
<text x="1779.5" y="280.3" font-size="10.6" fill="#ffffff" text-anchor="start" font-weight="bold" textLength="27" lengthAdjust="spacingAndGlyphs">22:33</text>
<rect x="1766" y="375" width="49" height="17" fill="#4caf50" shape-rendering="crispEdges"/>
<rect x="1766" y="383" width="4" height="1" fill="#ffffff" shape-rendering="crispEdges"/>
<text x="1775" y="387.3" font-size="10.6" fill="#ffffff" text-anchor="start" font-weight="bold" textLength="32" lengthAdjust="spacingAndGlyphs">9212.7</text>
<rect x="1766" y="509" width="49" height="17" fill="#4caf50" shape-rendering="crispEdges"/>
<rect x="1766" y="517" width="4" height="1" fill="#ffffff" shape-rendering="crispEdges"/>
<text x="1775" y="521.3" font-size="10.6" fill="#ffffff" text-anchor="start" font-weight="bold" textLength="32" lengthAdjust="spacingAndGlyphs">8987.7</text>
<text x="1756.3" y="211.4" font-size="11.7" fill="#9a9a9a" text-anchor="end" font-weight="normal" textLength="50" lengthAdjust="spacingAndGlyphs">0(9494.5)</text>
<text x="1756.3" y="293.7" font-size="11.7" fill="#e0605f" text-anchor="end" font-weight="normal" textLength="73" lengthAdjust="spacingAndGlyphs">0.236(9356.7)</text>
<text x="1756.3" y="385.7" font-size="11.7" fill="#6b2d58" text-anchor="end" font-weight="normal" textLength="61.5" lengthAdjust="spacingAndGlyphs">0.5(9202.5)</text>
<text x="1756.3" y="426.8" font-size="11.7" fill="#3fd6a4" text-anchor="end" font-weight="normal" textLength="73" lengthAdjust="spacingAndGlyphs">0.618(9133.6)</text>
<text x="1756.3" y="477.5" font-size="11.7" fill="#3c9ad9" text-anchor="end" font-weight="normal" textLength="73" lengthAdjust="spacingAndGlyphs">0.764(9048.3)</text>
<text x="1756.3" y="559.7" font-size="11.7" fill="#55aae0" text-anchor="end" font-weight="normal" textLength="50" lengthAdjust="spacingAndGlyphs">1(8910.4)</text>
<rect x="1700" y="382" width="65" height="2" fill="#3fa648" shape-rendering="crispEdges"/>
<text x="15.5" y="64.5" font-size="12.5" fill="#444444" text-anchor="start" font-weight="bold" textLength="136" lengthAdjust="spacingAndGlyphs">XBT / USD, 1h, KRAKEN</text>
<text x="15.7" y="81.8" font-size="12.5" fill="#444444" text-anchor="start" font-weight="normal" textLength="86" lengthAdjust="spacingAndGlyphs">MA (100, close)</text>
<text x="15.5" y="617" font-size="12.5" fill="#444444" text-anchor="start" font-weight="normal" textLength="77.5" lengthAdjust="spacingAndGlyphs">RSI (14, close)</text>
<text x="15.5" y="732.5" font-size="12.5" fill="#444444" text-anchor="start" font-weight="normal" textLength="130" lengthAdjust="spacingAndGlyphs">MACD (12, 26, close, 9)</text>
<text x="6.2" y="16.8" font-size="12.5" fill="#131722" text-anchor="start" font-weight="bold" textLength="75.5" lengthAdjust="spacingAndGlyphs">aayushjindal</text>
<text x="86" y="16.8" font-size="12.5" fill="#131722" text-anchor="start" font-weight="normal" textLength="334.3" lengthAdjust="spacingAndGlyphs">published on TradingView.com, June 16, 2020 02:37:32 UTC</text>
<text x="6.6" y="33.9" font-size="12.5" fill="#131722" text-anchor="start" font-weight="bold" textLength="119.3" lengthAdjust="spacingAndGlyphs">KRAKEN:XBTUSD, 60</text>
<text x="132.6" y="33.9" font-size="12.5" fill="#131722" text-anchor="start" font-weight="normal" textLength="37.8" lengthAdjust="spacingAndGlyphs">9421.4</text>
<path d="M174.3,25.6 L184.2,25.6 L179.25,34.1 Z" fill="#ef5350"/>
<text x="188.6" y="33.9" font-size="12.5" fill="#131722" text-anchor="start" font-weight="normal" textLength="76.7" lengthAdjust="spacingAndGlyphs">−3.9 (−0.04%)</text>
<text x="270.8" y="33.9" font-size="12.5" fill="#131722" text-anchor="start" font-weight="bold" textLength="11.7" lengthAdjust="spacingAndGlyphs">O:</text>
<text x="284.5" y="33.9" font-size="12.5" fill="#ef5350" text-anchor="start" font-weight="normal" textLength="38.3" lengthAdjust="spacingAndGlyphs">9409.9</text>
<text x="327.4" y="33.9" font-size="12.5" fill="#131722" text-anchor="start" font-weight="bold" textLength="11.8" lengthAdjust="spacingAndGlyphs">H:</text>
<text x="341.1" y="33.9" font-size="12.5" fill="#ef5350" text-anchor="start" font-weight="normal" textLength="38.5" lengthAdjust="spacingAndGlyphs">9421.8</text>
<text x="384.3" y="33.9" font-size="12.5" fill="#131722" text-anchor="start" font-weight="bold" textLength="9.6" lengthAdjust="spacingAndGlyphs">L:</text>
<text x="395.2" y="33.9" font-size="12.5" fill="#ef5350" text-anchor="start" font-weight="normal" textLength="38.3" lengthAdjust="spacingAndGlyphs">9390.8</text>
<text x="438.2" y="33.9" font-size="12.5" fill="#131722" text-anchor="start" font-weight="bold" textLength="10.4" lengthAdjust="spacingAndGlyphs">C:</text>
<text x="449.9" y="33.9" font-size="12.5" fill="#ef5350" text-anchor="start" font-weight="normal" textLength="38.3" lengthAdjust="spacingAndGlyphs">9421.4</text>
<g transform="translate(5.9,841.8) scale(0.06566)">
<path d="M30,230 C-5,215 -10,150 25,120 C40,100 60,95 80,95 C85,40 130,0 175,0 C215,0 250,25 265,65 C295,55 330,65 345,95 C390,110 410,160 395,195 C388,215 372,228 350,230 Z" fill="#2196f3"/>
<path d="M10,195 L150,85 L245,180 L340,85" fill="none" stroke="#ffffff" stroke-width="16"/>
<circle cx="150" cy="85" r="27" fill="#ffffff"/><circle cx="245" cy="180" r="27" fill="#ffffff"/>
</g>
<text x="34.2" y="853.7" font-size="12.6" fill="#131722" text-anchor="start" font-weight="normal" textLength="70.5" lengthAdjust="spacingAndGlyphs">TradingView</text>
</svg>
</body></html>
